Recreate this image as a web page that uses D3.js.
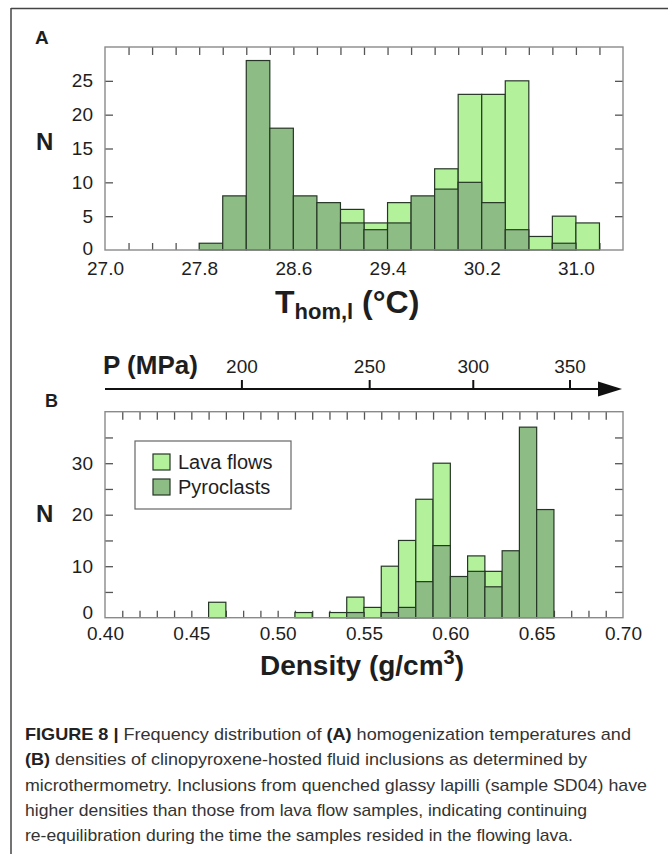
<!DOCTYPE html>
<html>
<head>
<meta charset="utf-8">
<script src="https://cdn.jsdelivr.net/npm/d3@7/dist/d3.min.js"></script>
<style>
  html, body { margin: 0; padding: 0; background: #fff; }
  svg { display: block; font-family: "Liberation Sans", Arial, Helvetica, sans-serif; }
</style>
</head>
<body>
<svg id="chart" width="668" height="854"></svg>
<script>
// ---------- Data ----------
// Panel A: homogenization temperature bins (bin start, width 0.2 °C)
const binsA      = [27.8, 28.0, 28.2, 28.4, 28.6, 28.8, 29.0, 29.2, 29.4, 29.6, 29.8, 30.0, 30.2, 30.4, 30.6, 30.8, 31.0];
const lavaA      = [0,    0,    0,    0,    0,    0,    6,    4,    7,    0,    12,   23,   23,   25,   2,    5,    4];
const pyroA      = [1,    8,    28,   18,   8,    7,    4,    3,    4,    8,    9,    10,   7,    3,    0,    1,    0];
const xLabelsA   = [27.0, 27.8, 28.6, 29.4, 30.2, 31.0];
const yLabelsA   = [0, 5, 10, 15, 20, 25];

// Panel B: density bins (bin start, width 0.01 g/cm3)
const binsB      = [0.46, 0.47, 0.48, 0.49, 0.50, 0.51, 0.52, 0.53, 0.54, 0.55, 0.56, 0.57, 0.58, 0.59, 0.60, 0.61, 0.62, 0.63, 0.64, 0.65];
const lavaB      = [3,    0,    0,    0,    0,    1,    0,    1,    4,    2,    10,   15,   23,   30,   0,    12,   9,    0,    0,    0];
const pyroB      = [0,    0,    0,    0,    0,    0,    0,    0,    1,    0,    1,    2,    7,    14,   8,    9,    6,    13,   37,   21];
const xLabelsB   = [0.40, 0.45, 0.50, 0.55, 0.60, 0.65, 0.70];
const yLabelsB   = [0, 10, 20, 30];

// Pressure axis (MPa) and the density each label sits at
const pLabels    = [200, 250, 300, 350];
const pDensity   = [0.479, 0.553, 0.613, 0.669];

const seriesNames = ["Lava flows", "Pyroclasts"];

const captionLines = [
  [["FIGURE 8 | ", true], ["Frequency distribution of ", false], ["(A)", true], [" homogenization temperatures and", false]],
  [["(B)", true], [" densities of clinopyroxene-hosted fluid inclusions as determined by", false]],
  [["microthermometry. Inclusions from quenched glassy lapilli (sample SD04) have", false]],
  [["higher densities than those from lava flow samples, indicating continuing", false]],
  [["re-equilibration during the time the samples resided in the flowing lava.", false]]
];
const captionWidths = [606, 562, 622, 562, 548];

// ---------- Styles ----------
const LIGHT = "#b3f29b";
const DARK  = "#8ebc85";
const BAR_STROKE = "#263626";
const FRAME = "#8a8a8a";
const TICK = "#555";
const TEXT = "#1e1e1e";

const svg = d3.select("#chart");

// Outer figure box (top and left borders)
svg.append("line").attr("x1", 11).attr("x2", 668).attr("y1", 8.5).attr("y2", 8.5)
  .attr("stroke", "#444").attr("stroke-width", 1.5);
svg.append("line").attr("x1", 11).attr("x2", 11).attr("y1", 8).attr("y2", 854)
  .attr("stroke", "#444").attr("stroke-width", 1.5);

function styleTicks(g) {
  g.select(".domain").remove();
  g.selectAll(".tick line").attr("stroke", TICK).attr("stroke-width", 1.3);
  g.selectAll(".tick text").attr("fill", TEXT).attr("font-size", 19);
}

function panel(opts) {
  const { x, y, bins, binW, lava, pyro, tickStep, yTickStep, xLabels, yLabels, xFmt, xPad, zeroShift } = opts;
  const [x0, x1] = x.range();
  const [y0, y1] = y.range();
  const xTicks = d3.range(x.domain()[0] + tickStep, x.domain()[1] - tickStep / 2, tickStep);
  const yTicks = d3.range(yTickStep, y.domain()[1] - yTickStep / 2, yTickStep);

  // inward ticks (drawn below bars)
  svg.append("g").attr("transform", `translate(0,${y0})`)
    .call(d3.axisTop(x).tickValues(xTicks).tickSize(7).tickFormat(""))
    .call(styleTicks);
  svg.append("g").attr("transform", `translate(0,${y1})`)
    .call(d3.axisBottom(x).tickValues(xTicks).tickSize(8).tickFormat(""))
    .call(styleTicks);
  svg.append("g").attr("transform", `translate(${x0},0)`)
    .call(d3.axisRight(y).tickValues(yTicks).tickSize(8).tickFormat(""))
    .call(styleTicks);
  svg.append("g").attr("transform", `translate(${x1},0)`)
    .call(d3.axisLeft(y).tickValues(yTicks).tickSize(8).tickFormat(""))
    .call(styleTicks);

  // bars: lava flows behind, pyroclasts in front
  const g = svg.append("g");
  g.selectAll("rect.lava").data(bins.map((b, i) => ({ b, v: lava[i] })).filter(d => d.v > 0))
    .join("rect").attr("class", "lava")
    .attr("x", d => x(d.b)).attr("width", d => x(d.b + binW) - x(d.b))
    .attr("y", d => y(d.v)).attr("height", d => y(0) - y(d.v))
    .attr("fill", LIGHT).attr("stroke", BAR_STROKE).attr("stroke-width", 1.2);
  g.selectAll("rect.pyro").data(bins.map((b, i) => ({ b, v: pyro[i] })).filter(d => d.v > 0))
    .join("rect").attr("class", "pyro")
    .attr("x", d => x(d.b)).attr("width", d => x(d.b + binW) - x(d.b))
    .attr("y", d => y(d.v)).attr("height", d => y(0) - y(d.v))
    .attr("fill", DARK).attr("stroke", BAR_STROKE).attr("stroke-width", 1.2);

  // frame
  svg.append("rect").attr("x", x0).attr("y", y1).attr("width", x1 - x0).attr("height", y0 - y1)
    .attr("fill", "none").attr("stroke", FRAME).attr("stroke-width", 1.4);

  // labels
  svg.append("g").attr("transform", `translate(0,${y0})`)
    .call(d3.axisBottom(x).tickValues(xLabels).tickSize(0).tickPadding(xPad).tickFormat(xFmt))
    .call(styleTicks);
  svg.append("g").attr("transform", `translate(${x0},0)`)
    .call(d3.axisLeft(y).tickValues(yLabels).tickSize(0).tickPadding(12).tickFormat(d3.format("d")))
    .call(styleTicks)
    .call(g => g.selectAll(".tick").filter(d => d === 0).select("text").attr("y", -zeroShift));
}

// ---------- Panel A ----------
const xA = d3.scaleLinear().domain([27.0, 31.4]).range([105, 623]);
const yA = d3.scaleLinear().domain([0, 30]).range([250, 47]);
panel({ x: xA, y: yA, bins: binsA, binW: 0.2, lava: lavaA, pyro: pyroA,
        tickStep: 0.2, yTickStep: 5, xLabels: xLabelsA, yLabels: yLabelsA,
        xFmt: d3.format(".1f"), xPad: 12, zeroShift: 2 });

svg.append("text").attr("x", 35).attr("y", 44).attr("font-size", 19).attr("font-weight", "bold")
  .attr("fill", TEXT).text("A");
svg.append("text").attr("x", 36).attr("y", 150).attr("font-size", 24).attr("font-weight", "bold")
  .attr("fill", TEXT).text("N");

const tA = svg.append("text").attr("x", 275).attr("y", 313).attr("font-weight", "bold").attr("fill", TEXT);
tA.append("tspan").attr("font-size", 32).text("T");
tA.append("tspan").attr("font-size", 22).attr("dy", 6).text("hom,l");
tA.append("tspan").attr("font-size", 32).attr("dy", -6).text(" (°C)");

// ---------- Panel B ----------
const xB = d3.scaleLinear().domain([0.40, 0.70]).range([105, 623]);
const yB = d3.scaleLinear().domain([0, 40]).range([617.7, 411.7]);
panel({ x: xB, y: yB, bins: binsB, binW: 0.01, lava: lavaB, pyro: pyroB,
        tickStep: 0.01, yTickStep: 5, xLabels: xLabelsB, yLabels: yLabelsB,
        xFmt: d3.format(".2f"), xPad: 9, zeroShift: 5 });

svg.append("text").attr("x", 45).attr("y", 407).attr("font-size", 18).attr("font-weight", "bold")
  .attr("fill", TEXT).text("B");
svg.append("text").attr("x", 36).attr("y", 522).attr("font-size", 24).attr("font-weight", "bold")
  .attr("fill", TEXT).text("N");

// Pressure axis with arrow
const pY = 389;
svg.append("line").attr("x1", 105).attr("x2", 604).attr("y1", pY).attr("y2", pY)
  .attr("stroke", "#111").attr("stroke-width", 2.2);
svg.append("path").attr("d", `M598,${pY - 7.5}L622,${pY}L598,${pY + 7.5}Z`).attr("fill", "#111");
svg.append("g").attr("transform", `translate(0,${pY})`)
  .call(d3.axisTop(xB).tickValues(pDensity).tickSize(9).tickPadding(7)
        .tickFormat((d, i) => pLabels[i]))
  .call(g => {
    g.select(".domain").remove();
    g.selectAll(".tick line").attr("stroke", "#111").attr("stroke-width", 2);
    g.selectAll(".tick text").attr("fill", TEXT).attr("font-size", 19);
  });
svg.append("text").attr("x", 103).attr("y", 374).attr("font-size", 26).attr("font-weight", "bold")
  .attr("fill", TEXT).text("P (MPa)");

// Legend
const lg = svg.append("g");
lg.append("rect").attr("x", 135).attr("y", 441).attr("width", 156).attr("height", 68)
  .attr("fill", "#fff").attr("stroke", "#666").attr("stroke-width", 1.2);
[LIGHT, DARK].forEach((c, i) => {
  lg.append("rect").attr("x", 153).attr("y", 454 + i * 25).attr("width", 17).attr("height", 16)
    .attr("fill", c).attr("stroke", BAR_STROKE).attr("stroke-width", 1.2);
  lg.append("text").attr("x", 178).attr("y", 469 + i * 25).attr("font-size", 20)
    .attr("fill", TEXT).text(seriesNames[i]);
});

const tB = svg.append("text").attr("x", 362).attr("y", 675).attr("text-anchor", "middle")
  .attr("font-weight", "bold").attr("fill", TEXT);
tB.append("tspan").attr("font-size", 28).text("Density (g/cm");
tB.append("tspan").attr("font-size", 20).attr("dy", -11).text("3");
tB.append("tspan").attr("font-size", 28).attr("dy", 11).text(")");

// ---------- Caption ----------
captionLines.forEach((line, i) => {
  const t = svg.append("text").attr("x", 25).attr("y", 740 + i * 25.3)
    .attr("font-size", 17).attr("fill", "#333")
    .attr("textLength", captionWidths[i]).attr("lengthAdjust", "spacingAndGlyphs");
  line.forEach(([s, bold]) => {
    t.append("tspan").attr("font-weight", bold ? "bold" : "normal")
      .attr("fill", bold ? "#222" : "#333").text(s);
  });
});
</script>
</body>
</html>
